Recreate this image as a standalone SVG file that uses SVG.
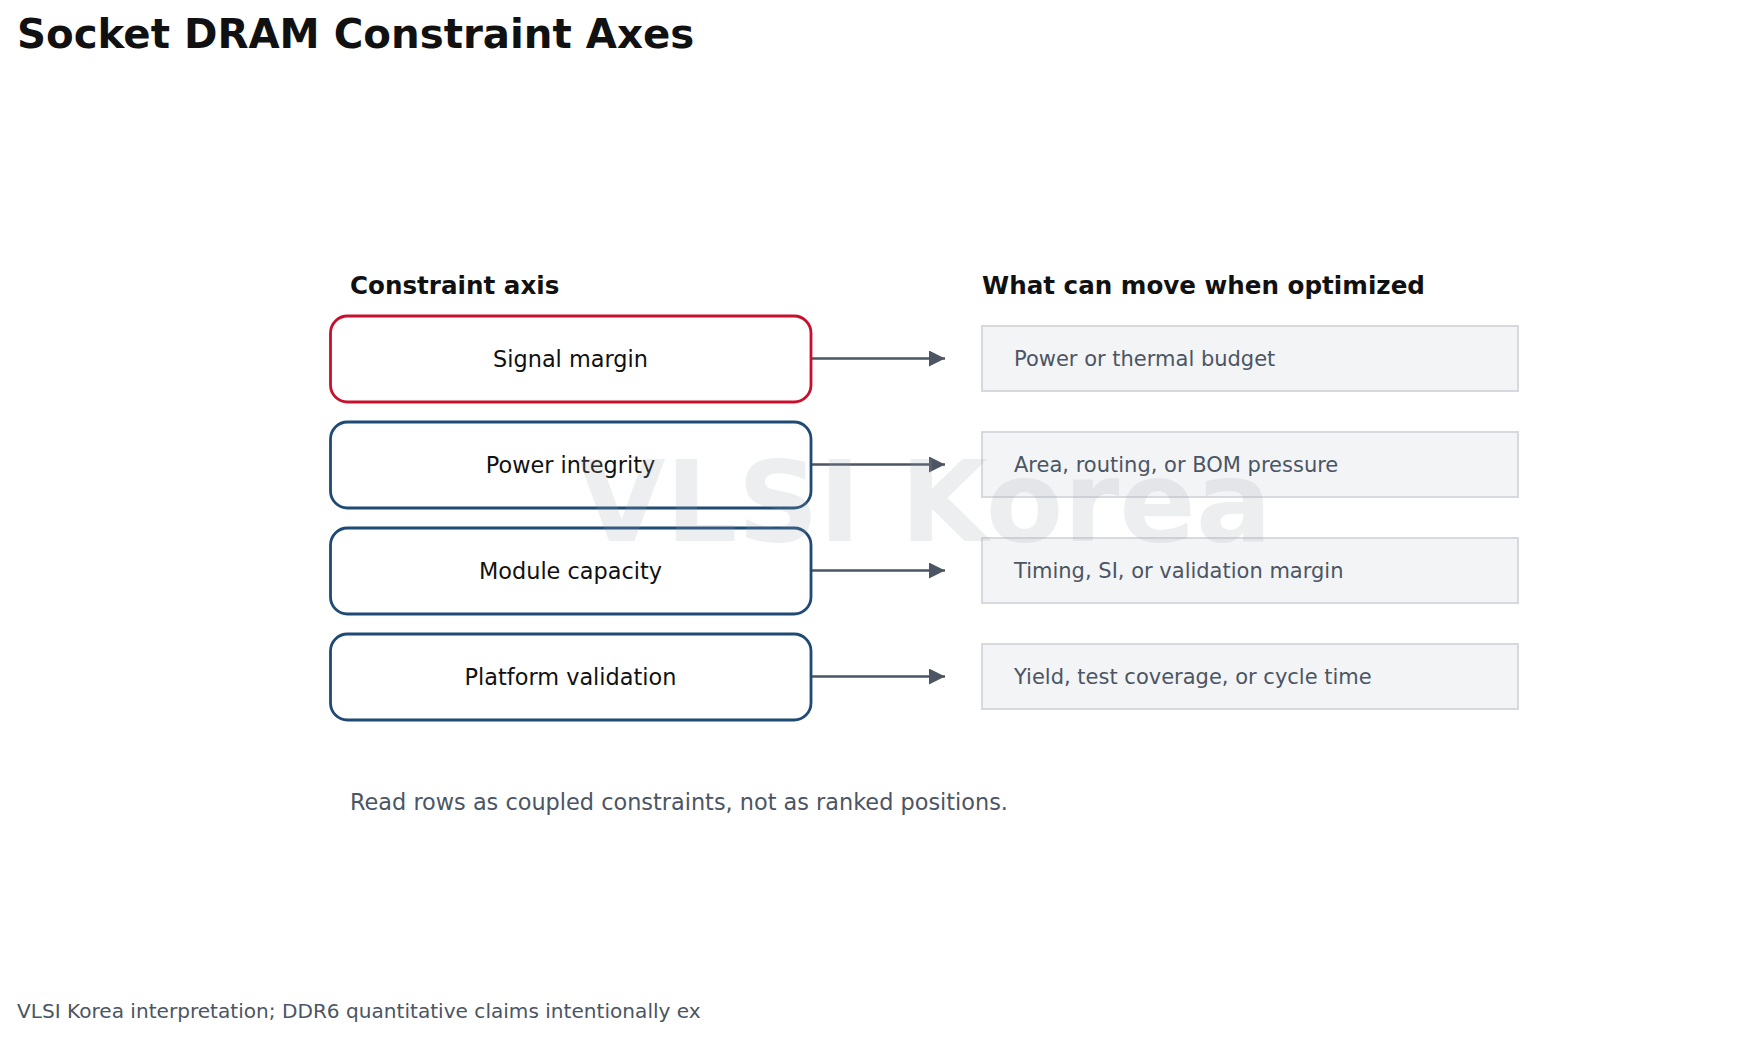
<svg xmlns="http://www.w3.org/2000/svg" width="1757" height="1038" viewBox="0 0 1757 1038">
<defs>
<style>
text{font-family:"DejaVu Sans","Liberation Sans",sans-serif}
.title{font-size:40.3px;font-weight:bold;fill:#111111}
.hdr{font-size:24.6px;font-weight:bold;fill:#111111}
.ax{fill:#ffffff;stroke:#1f4a75;stroke-width:2.8}
.ax.hot{stroke:#c8102e}
.axt{font-size:22.4px;fill:#111111;text-anchor:middle}
.mv{fill:#f3f4f6;stroke:#d7d9df;stroke-width:2}
.mvt{font-size:21px;fill:#4b5563}
.note{font-size:22.4px;fill:#4b5563}
.foot{font-size:20.1px;fill:#4b5563}
.wm{font-size:113px;font-weight:bold;fill:#9ca3af;opacity:0.18;text-anchor:middle}
.conn{stroke:#4b5563;stroke-width:2.6;fill:none;marker-end:url(#ah)}
</style>
<marker id="ah" viewBox="0 0 10 10" refX="10" refY="5" markerWidth="16" markerHeight="16" markerUnits="userSpaceOnUse" orient="auto">
<path d="M0,0 L10,5 L0,10 z" fill="#4b5563"/>
</marker>
</defs>
<rect width="1757" height="1038" fill="#ffffff"/>
<text class="title" x="17" y="48">Socket DRAM Constraint Axes</text>
<text class="hdr" x="350" y="294">Constraint axis</text>
<text class="hdr" x="982" y="294">What can move when optimized</text>

<g id="connectors">
<line class="conn" x1="811" y1="358.5" x2="945" y2="358.5"/>
<line class="conn" x1="811" y1="464.5" x2="945" y2="464.5"/>
<line class="conn" x1="811" y1="570.5" x2="945" y2="570.5"/>
<line class="conn" x1="811" y1="676.5" x2="945" y2="676.5"/>
</g>

<g id="axis-signal"><rect class="ax hot" x="330.5" y="316" width="480.5" height="86" rx="17"/><text class="axt" x="570.5" y="366.5">Signal margin</text></g>
<g id="axis-power"><rect class="ax" x="330.5" y="422" width="480.5" height="86" rx="17"/><text class="axt" x="570.5" y="472.5">Power integrity</text></g>
<g id="axis-capacity"><rect class="ax" x="330.5" y="528" width="480.5" height="86" rx="17"/><text class="axt" x="570.5" y="578.5">Module capacity</text></g>
<g id="axis-validation"><rect class="ax" x="330.5" y="634" width="480.5" height="86" rx="17"/><text class="axt" x="570.5" y="684.5">Platform validation</text></g>

<g id="move-power"><rect class="mv" x="982" y="326" width="536" height="65"/><text class="mvt" x="1014" y="365.5">Power or thermal budget</text></g>
<g id="move-area"><rect class="mv" x="982" y="432" width="536" height="65"/><text class="mvt" x="1014" y="471.5">Area, routing, or BOM pressure</text></g>
<g id="move-timing"><rect class="mv" x="982" y="538" width="536" height="65"/><text class="mvt" x="1014" y="577.5">Timing, SI, or validation margin</text></g>
<g id="move-yield"><rect class="mv" x="982" y="644" width="536" height="65"/><text class="mvt" x="1014" y="683.5">Yield, test coverage, or cycle time</text></g>

<text class="note" x="350" y="810">Read rows as coupled constraints, not as ranked positions.</text>
<text class="foot" x="17" y="1018">VLSI Korea interpretation; DDR6 quantitative claims intentionally ex</text>
<text class="wm" x="925" y="541">VLSI Korea</text>
</svg>
